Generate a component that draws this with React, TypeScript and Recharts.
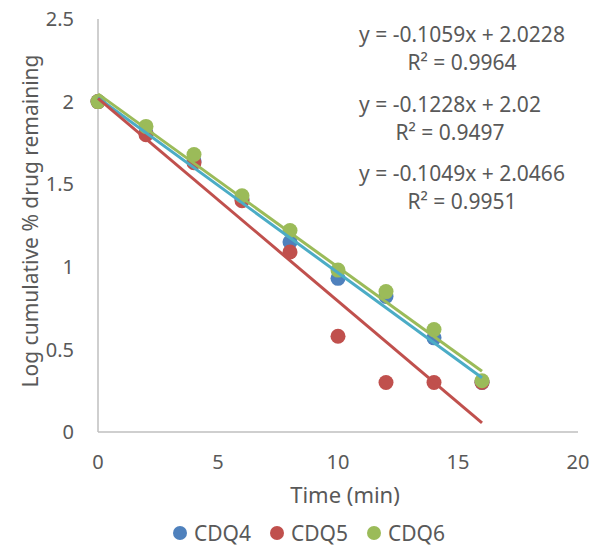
import React from "react";
import { ScatterChart, Scatter, XAxis, YAxis, Legend } from "recharts";

document.body.style.margin = "0";

const times = [0, 2, 4, 6, 8, 10, 12, 14, 16];
const cdq4 = [2.0, 1.81, 1.64, 1.41, 1.15, 0.93, 0.82, 0.57, 0.3];
const cdq5 = [2.0, 1.8, 1.63, 1.4, 1.09, 0.58, 0.3, 0.3, 0.3];
const cdq6 = [2.0, 1.85, 1.68, 1.43, 1.22, 0.98, 0.85, 0.62, 0.31];

// trendline end points (x = 0 and x = 16)
const trendX = [0, 16];
const trend4 = [2.0228, 0.3284];
const trend5 = [2.02, 0.0552];
const trend6 = [2.0466, 0.3682];

const xTicks = [0, 5, 10, 15, 20];
const yTicks = [0, 0.5, 1, 1.5, 2, 2.5];

const seriesNames = ["CDQ4", "CDQ5", "CDQ6"];
const equations = [
  ["y = -0.1059x + 2.0228", "R² = 0.9964"],
  ["y = -0.1228x + 2.02", "R² = 0.9497"],
  ["y = -0.1049x + 2.0466", "R² = 0.9951"],
];

const colors = ["#4F81BD", "#C0504D", "#9BBB59"];
const trendColors = ["#4BACC6", "#C0504D", "#9BBB59"];
const textColor = "#595959";

const toPoints = (xs: number[], ys: number[]) => xs.map((x, i) => ({ x, y: ys[i] }));

const dot = (color: string) => (props: any) =>
  <circle cx={props.cx} cy={props.cy} r={7.5} fill={color} />;

const noDot = () => <g />;

const LegendBox = () => (
  <div style={{ display: "flex", justifyContent: "center", height: 26, lineHeight: "26px", alignItems: "center", paddingLeft: 20, fontSize: 21, color: textColor }}>
    {seriesNames.map((n, i) => (
      <div key={n} style={{ display: "flex", alignItems: "center", marginRight: i < 2 ? 19 : 0 }}>
        <span style={{ width: 14, height: 14, borderRadius: "50%", background: colors[i], display: "inline-block", marginRight: 7 }} />
        <span>{n}</span>
      </div>
    ))}
  </div>
);

const App: React.FC = () => {
  const series = [cdq4, cdq5, cdq6];
  const trends = [trend4, trend5, trend6];
  const eqX = [462, 450, 462];
  const eqY = [42, 112, 181];
  return (
    <div style={{ fontFamily: "'Noto Sans', sans-serif" }}>
      <ScatterChart width={598} height={546} margin={{ top: 19, right: 20, left: 0, bottom: 0 }}>
        <XAxis
          type="number"
          dataKey="x"
          domain={[0, 20]}
          ticks={xTicks}
          tickSize={0}
          tickMargin={23}
          axisLine={{ stroke: "#BFBFBF", strokeWidth: 1.5 }}
          tick={{ fill: textColor, fontSize: 20 }}
          height={88}
          label={{
            content: () => (
              <text x={345} y={503} textAnchor="middle" fill={textColor} fontSize={22}>Time (min)</text>
            ),
          }}
        />
        <YAxis
          type="number"
          dataKey="y"
          domain={[0, 2.5]}
          ticks={yTicks}
          tickSize={0}
          tickMargin={24}
          width={98}
          axisLine={{ stroke: "#BFBFBF", strokeWidth: 1.5 }}
          tick={{ fill: textColor, fontSize: 20 }}
          label={{
            content: () => (
              <text x={30} y={221} transform="rotate(-90 30 221)" textAnchor="middle" dominantBaseline="central" fill={textColor} fontSize={21}>
                Log cumulative % drug remaining
              </text>
            ),
          }}
        />
        <Legend verticalAlign="bottom" wrapperStyle={{ left: 0, width: 598, bottom: 0 }} content={() => <LegendBox />} />
        {series.map((s, i) => (
          <Scatter key={seriesNames[i]} name={seriesNames[i]} data={toPoints(times, s)} fill={colors[i]} shape={dot(colors[i])} isAnimationActive={false} />
        ))}
        {trends.map((t, i) => (
          <Scatter
            key={"trend" + i}
            name={"trend" + i}
            data={toPoints(trendX, t)}
            legendType="none"
            line={{ stroke: trendColors[i], strokeWidth: 3 }}
            shape={noDot}
            isAnimationActive={false}
          />
        ))}
        <g>
          {equations.map((eq, i) => (
            <g key={i}>
              <text x={eqX[i]} y={eqY[i]} textAnchor="middle" fill={textColor} fontSize={21}>{eq[0]}</text>
              <text x={eqX[i]} y={eqY[i] + 28} textAnchor="middle" fill={textColor} fontSize={21}>{eq[1]}</text>
            </g>
          ))}
        </g>
      </ScatterChart>
    </div>
  );
};

export default App;
